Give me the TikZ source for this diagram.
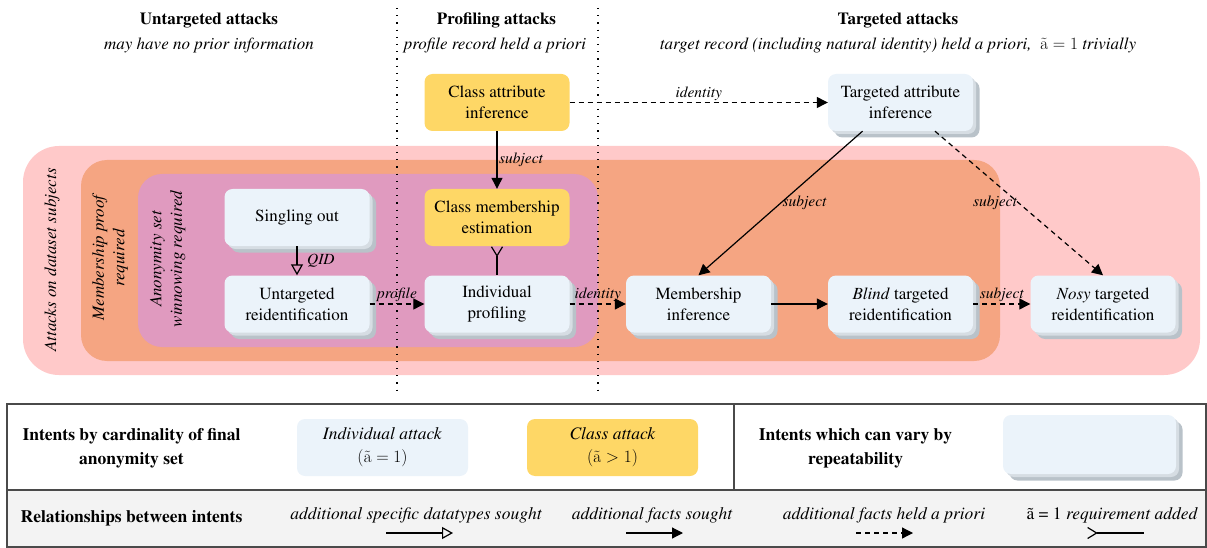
\documentclass[tikz,border=0pt]{standalone}
\usepackage[T1]{fontenc}
\usepackage{times}
\usetikzlibrary{arrows.meta,shadows,calc}
\definecolor{outerpink}{HTML}{FFC9C9}
\definecolor{orangebg}{HTML}{F5A582}
\definecolor{mauve}{HTML}{E09ABF}
\definecolor{classyellow}{HTML}{FED766}
\definecolor{indblue}{HTML}{EBF3FA}
\definecolor{shadowdark}{HTML}{B9C2C9}
\definecolor{shadowlight}{HTML}{D6DDE3}
\definecolor{legendgray}{HTML}{F3F3F3}
\definecolor{legendline}{HTML}{4A4A4A}
\tikzset{
  base/.style={rounded corners=8pt, minimum width=145pt, minimum height=57pt,
    align=center, inner sep=2pt, font=\fontsize{17}{21}\selectfont},
  classnode/.style={base, fill=classyellow},
  shadowed/.style={
    general shadow={fill=shadowdark, shadow xshift=6.5pt, shadow yshift=-6.5pt},
    general shadow={fill=shadowlight, shadow xshift=3pt, shadow yshift=-3pt}},
  indnode/.style={base, fill=indblue, shadowed},
  elbl/.style={font=\fontsize{15.5}{18}\selectfont\itshape, inner sep=1.5pt},
  head/.style={font=\fontsize{17}{20}\selectfont\bfseries, inner sep=0pt},
  subhead/.style={font=\fontsize{17}{20}\selectfont\itshape, inner sep=0pt},
  regionlbl/.style={font=\fontsize{17}{20.5}\selectfont\itshape, align=center, rotate=90, inner sep=0pt},
  sep/.style={line width=1.2pt, dash pattern=on 1.2pt off 6pt},
  arr/.style={line width=1.2pt, -{Triangle[length=11pt,width=11pt]}},
  darr/.style={arr, dash pattern=on 5pt off 4pt},
  oarr/.style={line width=1.2pt, -{Triangle[open,length=11pt,width=12pt]}},
  barb/.style={line width=1.2pt, {Straight Barb[reversed,length=9pt,width=11pt]}-},
  legbold/.style={font=\fontsize{17.5}{24}\selectfont\bfseries, align=center, inner sep=0pt},
  legit/.style={font=\fontsize{17.5}{21}\selectfont\itshape, inner sep=0pt},
  legbox/.style={rounded corners=8pt, minimum width=171pt, minimum height=57pt,
    align=center, inner sep=2pt, font=\fontsize{17.5}{23}\selectfont},
}
\begin{document}
\begin{tikzpicture}[x=1pt,y=-1pt]
\useasboundingbox (0,0) rectangle (1207,548);
% nested regions
\fill[outerpink, rounded corners=36pt] (23,146) rectangle (1200,375);
\fill[orangebg, rounded corners=26pt] (81,160) rectangle (1000,361);
\fill[mauve, rounded corners=24pt] (138,174) rectangle (598,347);
\node[regionlbl] (rl1) at (52,260) {Attacks on dataset subjects};
\node[regionlbl] (rl2) at (110,258) {Membership proof\\required};
\node[regionlbl] (rl3) at (167.5,259) {Anonymity set\\winnowing required};
% column separators
\coordinate (d1t) at (397,8); \coordinate (d1b) at (397,390);
\coordinate (d2t) at (598,8); \coordinate (d2b) at (598,390);
\draw[sep] (d1t) -- (d1b);
\draw[sep] (d2t) -- (d2b);
% headers
\node[head] (h1) at (209,20) {Untargeted attacks};
\node[subhead] (s1) at (209,45) {may have no prior information};
\node[head] (h2) at (496.5,20) {Profiling attacks};
\node[subhead] (s2) at (495,45) {profile record held a priori};
\node[head] (h3) at (898,20) {Targeted attacks};
\node[subhead] (s3) at (898,45) {target record (including natural identity) held a priori,\ \ $\tilde{\mathrm{a}} = 1$ trivially};
% intents
\node[classnode] (cai) at (497,102.5) {Class attribute\\inference};
\node[indnode] (tai) at (900.5,102.5) {Targeted attribute\\inference};
\node[classnode] (cme) at (497,217.5) {Class membership\\estimation};
\node[indnode] (so) at (297,217.5) {Singling out};
\node[indnode] (ur) at (297,304) {Untargeted\\reidentification};
\node[indnode] (ip) at (497,304) {Individual\\profiling};
\node[indnode] (mi) at (698.5,304) {Membership\\inference};
\node[indnode] (btr) at (900.5,304) {\textit{Blind} targeted\\reidentification};
\node[indnode] (ntr) at (1103,304) {\textit{Nosy} targeted\\reidentification};
% relationships
\draw[arr] (cai) -- node[elbl, right] {subject} (cme);
\draw[darr] (cai) -- node[elbl, above] {identity} (tai);
\draw[oarr] (so) -- node[elbl, right=8pt] {QID} (ur);
\draw[darr] (ur) -- node[elbl, above] {profile} (ip);
\draw[darr] (ip) -- node[elbl, above] {identity} (mi);
\draw[barb] (cme) -- (ip);
\draw[arr] (mi) -- (btr);
\draw[darr] (btr) -- node[elbl, above] {subject} (ntr);
\draw[arr] ($(tai.south)+(-38,0)$) -- node[elbl, anchor=west] {subject} (mi.north);
\draw[darr] ($(tai.south)+(34.5,0)$) -- node[elbl, anchor=east] {subject} (ntr.north);
% legend
\fill[legendgray] (7,490) rectangle (1206,547);
\draw[legendline, line width=1.3pt] (7,404) rectangle (1206,547);
\draw[legendline, line width=1.3pt] (7,490) -- (1206,490);
\draw[legendline, line width=1.3pt] (734,404) -- (734,490);
\node[legbold] (lg1) at (131.5,448) {Intents by cardinality of final\\anonymity set};
\node[legbox, fill=indblue] (lg2) at (382.5,447.5) {\textit{Individual attack}\\$(\tilde{\mathrm{a}}=1)$};
\node[legbox, fill=classyellow] (lg3) at (612.5,447.5) {\textit{Class attack}\\$(\tilde{\mathrm{a}}>1)$};
\node[legbold] (lg4) at (855.5,448) {Intents which can vary by\\repeatability};
\node[rounded corners=8pt, minimum width=173pt, minimum height=59pt, fill=indblue, shadowed] (lg5) at (1089.5,444.5) {};
\node[legbold] (lg6) at (131.5,518) {Relationships between intents};
\node[legit] (lg7) at (416,515) {additional specific datatypes sought};
\node[legit] (lg8) at (652,515) {additional facts sought};
\node[legit] (lg9) at (884,515) {additional facts held a priori};
\node[legit] (lg10) at (1112,515) {\upshape \~a = 1 \itshape requirement added};
\coordinate (a1s) at (386,533); \coordinate (a1e) at (453,533);
\coordinate (a2s) at (626,533); \coordinate (a2e) at (683,533);
\coordinate (a3s) at (856,533); \coordinate (a3e) at (913,533);
\coordinate (a4s) at (1087,533); \coordinate (a4e) at (1144,533);
\draw[oarr] (a1s) -- (a1e);
\draw[arr] (a2s) -- (a2e);
\draw[darr] (a3s) -- (a3e);
\draw[barb] (a4s) -- (a4e);
\end{tikzpicture}
\end{document}
